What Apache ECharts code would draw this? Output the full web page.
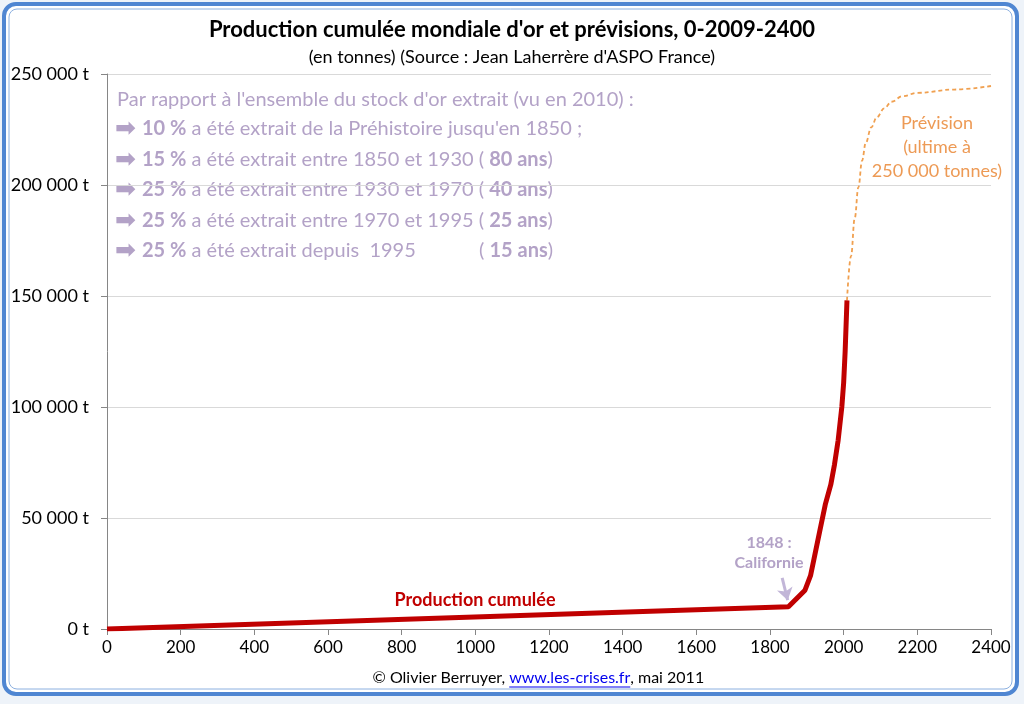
<!DOCTYPE html>
<html>
<head>
<meta charset="utf-8">
<script src="https://cdn.jsdelivr.net/npm/echarts@6/dist/echarts.min.js"></script>
<style>
  html, body { margin: 0; padding: 0; background: #eef3f9; }
  #chart { width: 1024px; height: 704px; }
</style>
</head>
<body>
<div id="chart"></div>
<script>
// production cumulée (année, tonnes)
const prodYears  = [0, 1850, 1895, 1910, 1920, 1935, 1950, 1965, 1975, 1985, 1995, 2000, 2004, 2009];
const prodTonnes = [0, 10000, 17500, 24000, 32000, 44000, 56000, 65000, 74000, 85000, 100000, 111000, 125000, 148000];

// prévision jusqu'en 2400
const prevYears  = [2009, 2020, 2030, 2040, 2050, 2060, 2075, 2090, 2110, 2130, 2160, 2200, 2300, 2400];
const prevTonnes = [148000, 168000, 185000, 199000, 211000, 219000, 226000, 230500, 234500, 237500, 240000, 241500, 243000, 244600];

const lavender = '#b3a2c7';
const font = 'Lato, "Open Sans", sans-serif';

let myChart = echarts.init(document.getElementById('chart'));

function pairs(xs, ys) {
    let out = [];
    for (let i = 0; i < xs.length; i++) out.push([xs[i], ys[i]]);
    return out;
}

function fmtTonnes(v) {
    return String(v).replace(/\B(?=(\d{3})+(?!\d))/g, ' ') + ' t';
}

// largeur d'un texte, pour souligner le lien
let ctx = document.createElement('canvas').getContext('2d');
function textWidth(s, f) {
    ctx.font = f;
    return ctx.measureText(s).width;
}

// lignes du texte explicatif
const notes = [
    ['10 %', ' a été extrait de la Préhistoire jusqu\'en 1850 ;', '', ''],
    ['15 %', ' a été extrait entre 1850 et 1930 ', '( ', '80 ans', ')'],
    ['25 %', ' a été extrait entre 1930 et 1970 ', '( ', '40 ans', ')'],
    ['25 %', ' a été extrait entre 1970 et 1995 ', '( ', '25 ans', ')'],
    ['25 %', ' a été extrait depuis  1995', '', ''],
];
const noteY = [129, 160, 190, 221, 251];

const noteRich = {
    a: { fill: lavender, font: 'bold 25px "DejaVu Sans"', padding: [0, 6, 0, 0] },
    b: { fill: lavender, font: 'bold 20px ' + font },
    c: { fill: lavender, font: '20px ' + font },
};

let noteGraphics = [{
    type: 'text', x: 117, y: 100,
    style: { text: "Par rapport à l'ensemble du stock d'or extrait (vu en 2010) :", fill: lavender, font: '20px ' + font, verticalAlign: 'middle' }
}];
notes.forEach(function (n, i) {
    let txt = '{a|➡}{b|' + n[0] + '}{c|' + n[1] + '}';
    if (n[3]) txt += '{c|' + n[2] + '}{b|' + n[3] + '}{c|' + n[4] + '}';
    noteGraphics.push({
        type: 'text', x: 115, y: noteY[i],
        style: { text: txt, rich: noteRich, verticalAlign: 'middle' }
    });
});
noteGraphics.push({
    type: 'text', x: 479, y: 251,
    style: { text: '{c|( }{b|15 ans}{c|)}', rich: noteRich, verticalAlign: 'middle' }
});

// pied de page avec lien souligné
const footFont = '16px ' + font;
const footA = '© Olivier Berruyer, ', footB = 'www.les-crises.fr', footC = ', mai 2011';
const footW = textWidth(footA + footB + footC, footFont);
const footX = 538 - footW / 2;
const linkX0 = footX + textWidth(footA, footFont);
const linkX1 = linkX0 + textWidth(footB, footFont);

let option = {
    backgroundColor: 'transparent',
    animation: false,
    grid: { left: 107, right: 33, top: 74, bottom: 75 },
    xAxis: {
        type: 'value', min: 0, max: 2400, interval: 200,
        axisLine: { lineStyle: { color: '#868686' } },
        axisTick: { show: true, length: 6, lineStyle: { color: '#868686' } },
        axisLabel: { color: '#000', fontSize: 17, fontFamily: font, margin: 10, formatter: function (v) { return String(v); } },
        splitLine: { show: false },
    },
    yAxis: {
        type: 'value', min: 0, max: 250000, interval: 50000,
        axisLine: { show: true, lineStyle: { color: '#868686' } },
        axisTick: { show: true, length: 6, lineStyle: { color: '#868686' } },
        axisLabel: { color: '#000', fontSize: 18, fontFamily: font, margin: 18, formatter: fmtTonnes },
        splitLine: { lineStyle: { color: '#d9d9d9' } },
    },
    graphic: [
        {
            type: 'rect', z: -10, silent: true,
            shape: { x: 4, y: 4, width: 1013, height: 690, r: 12 },
            style: { fill: '#fff', stroke: '#4f86d2', lineWidth: 4 }
        },
        {
            type: 'rect', z: -9, silent: true,
            shape: { x: 9, y: 9, width: 1003, height: 680, r: 8 },
            style: { fill: 'none', stroke: '#8cb0e0', lineWidth: 1 }
        },
        {
            type: 'text', x: 512, y: 30,
            style: { text: "Production cumulée mondiale d'or et prévisions, 0-2009-2400", fill: '#000', font: 'bold 22px ' + font, align: 'center', verticalAlign: 'middle' }
        },
        {
            type: 'text', x: 512, y: 57,
            style: { text: "(en tonnes) (Source : Jean Laherrère d'ASPO France)", fill: '#000', font: '18px ' + font, align: 'center', verticalAlign: 'middle' }
        },
        {
            type: 'text', x: footX, y: 678,
            style: {
                text: '{t|' + footA + '}{u|' + footB + '}{t|' + footC + '}',
                verticalAlign: 'middle',
                rich: {
                    t: { fill: '#000', font: footFont },
                    u: { fill: '#0000ee', font: footFont },
                }
            }
        },
        {
            type: 'line', silent: true,
            shape: { x1: linkX0, y1: 687, x2: linkX1, y2: 687 },
            style: { stroke: '#0000ee', lineWidth: 1 }
        },
        {
            type: 'text', x: 475, y: 600,
            style: { text: 'Production cumulée', fill: '#c00000', font: 'bold 18px ' + font, align: 'center', verticalAlign: 'middle' }
        },
        {
            type: 'text', x: 769, y: 553,
            style: { text: '1848 :\nCalifornie', fill: lavender, font: 'bold 16px ' + font, align: 'center', verticalAlign: 'middle', lineHeight: 20 }
        },
        {
            type: 'text', x: 937, y: 147,
            style: { text: 'Prévision\n(ultime à\n250 000 tonnes)', fill: '#ed9a55', font: '18px ' + font, align: 'center', verticalAlign: 'middle', lineHeight: 24 }
        },
    ].concat(noteGraphics),
    series: [
        {
            type: 'line', name: 'Production cumulée',
            data: pairs(prodYears, prodTonnes),
            showSymbol: false,
            lineStyle: { color: '#c00000', width: 5 },
            z: 3,
            markLine: {
                silent: true,
                symbol: ['none', 'arrow'],
                symbolSize: 12,
                label: { show: false },
                lineStyle: { color: '#c2b6d8', width: 3, type: 'solid' },
                data: [[{ coord: [1833, 23000] }, { coord: [1848, 13000] }]],
            },
        },
        {
            type: 'line', name: 'Prévision',
            data: pairs(prevYears, prevTonnes),
            showSymbol: false,
            smooth: 0.4,
            smoothMonotone: 'x',
            lineStyle: { color: '#f0a050', width: 1.8, type: [4, 3] },
            z: 2,
        },
    ],
};
myChart.setOption(option);
</script>
</body>
</html>
